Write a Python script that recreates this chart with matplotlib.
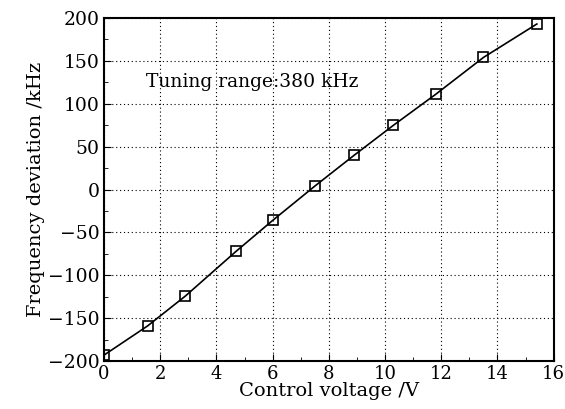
import matplotlib
matplotlib.use('Agg')
import matplotlib.pyplot as plt
from matplotlib.ticker import MultipleLocator

voltage = [0.0, 1.55, 2.9, 4.7, 6.0, 7.5, 8.9, 10.3, 11.8, 13.5, 15.4]
freq_dev = [-193, -159, -124, -72, -36, 4, 40, 75, 111, 154, 193]

plt.rcParams['font.family'] = 'DejaVu Serif'
plt.rcParams['font.size'] = 13

fig = plt.figure(figsize=(5.65, 4.09), dpi=100)
ax = fig.add_axes([0.184, 0.117, 0.796, 0.839])

ax.plot(voltage, freq_dev, color='black', lw=1.2, marker='s', ms=6.5,
        mfc='none', mec='black', mew=1.2)

ax.set_xlim(0, 16)
ax.set_ylim(-200, 200)
ax.xaxis.set_major_locator(MultipleLocator(2))
ax.xaxis.set_minor_locator(MultipleLocator(1))
ax.yaxis.set_major_locator(MultipleLocator(50))
ax.yaxis.set_minor_locator(MultipleLocator(25))
ax.tick_params(which='both', direction='in', top=False, right=False, labelsize=13.5, pad=3)
ax.tick_params(axis='x', labelsize=13)
ax.tick_params(which='major', length=5)
ax.tick_params(which='minor', length=3)
ax.grid(True, which='major', ls=(0, (1, 2.5)), color='black', lw=0.8)
for s in ax.spines.values():
    s.set_linewidth(1.5)

ax.set_xlabel('Control voltage /V', fontsize=14, labelpad=-1)
ax.set_ylabel('Frequency deviation /kHz', fontsize=14, labelpad=2)
ax.text(1.5, 125, 'Tuning range:380 kHz', fontsize=13.5, va='center')

fig.savefig('out.png', dpi=100)
